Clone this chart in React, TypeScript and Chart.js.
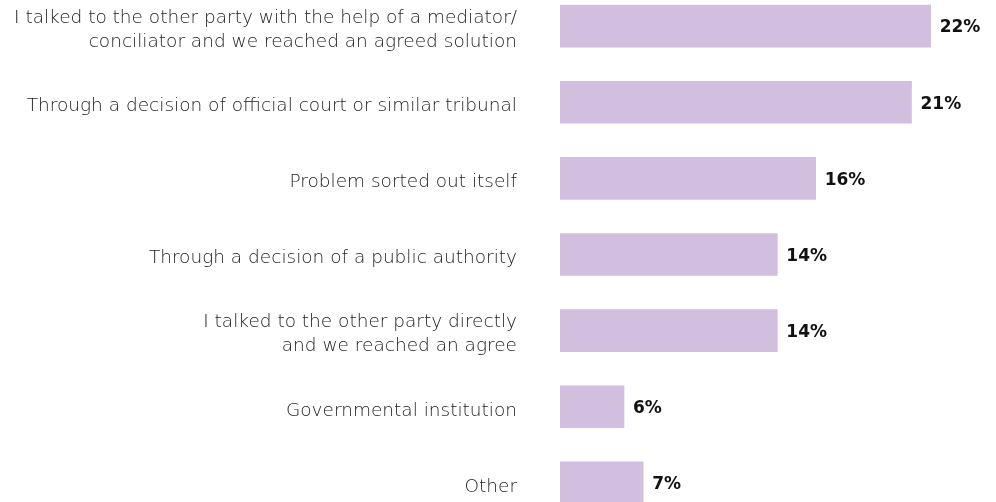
import React, { useEffect, useRef } from "react";
import { Chart, registerables } from "chart.js";

Chart.register(...registerables);

const categories: (string | string[])[] = [
  ["I talked to the other party with the help of a mediator/", "conciliator and we reached an agreed solution"],
  "Through a decision of official court or similar tribunal",
  "Problem sorted out itself",
  "Through a decision of a public authority",
  ["I talked to the other party directly", "and we reached an agree"],
  "Governmental institution",
  "Other",
];
const values = [22, 21, 16, 14, 14, 6, 7];
const valueLabels = ["22%", "21%", "16%", "14%", "14%", "6%", "7%"];

const BAR_COLOR = "#D2BEDE";
const FONT = "'DejaVu Sans'";

const valueLabelPlugin = {
  id: "valueLabels",
  afterDatasetsDraw(chart: any) {
    const { ctx } = chart;
    const meta = chart.getDatasetMeta(0);
    ctx.save();
    ctx.font = `700 17px ${FONT}`;
    ctx.fillStyle = "#111";
    ctx.textAlign = "left";
    ctx.textBaseline = "middle";
    meta.data.forEach((bar: any, i: number) => {
      ctx.fillText(valueLabels[i], bar.x + 9, bar.y + 2);
    });
    ctx.restore();
  },
};

export default function App() {
  const ref = useRef<HTMLCanvasElement>(null);
  useEffect(() => {
    const chart = new Chart(ref.current!, {
      type: "bar",
      data: {
        labels: categories,
        datasets: [
          {
            data: values,
            backgroundColor: BAR_COLOR,
            barThickness: 42,
          },
        ],
      },
      options: {
        indexAxis: "y",
        animation: false,
        responsive: true,
        maintainAspectRatio: false,
        layout: { padding: 0 },
        plugins: { legend: { display: false }, tooltip: { enabled: false } },
        scales: {
          x: { display: false, min: 2.661, max: 25.41 },
          y: {
            grid: { display: false, drawTicks: false },
            border: { display: false },
            afterFit(scale: any) {
              scale.width = 560;
              scale.paddingTop = 0;
              scale.paddingBottom = 0;
            },
            ticks: {
              padding: 43,
              labelOffset: 4,
              color: "#222",
              font: { family: FONT, size: 18.5, weight: 300, lineHeight: 1.3 },
            },
          },
        },
      },
      plugins: [valueLabelPlugin],
    });
    return () => chart.destroy();
  }, []);
  return (
    <div style={{ position: "fixed", left: 0, top: 0, width: 996, height: 502, overflow: "hidden", background: "#fff" }}>
      <div style={{ position: "absolute", left: 0, top: -12, width: 996, height: 533 }}>
        <canvas ref={ref} />
      </div>
    </div>
  );
}
